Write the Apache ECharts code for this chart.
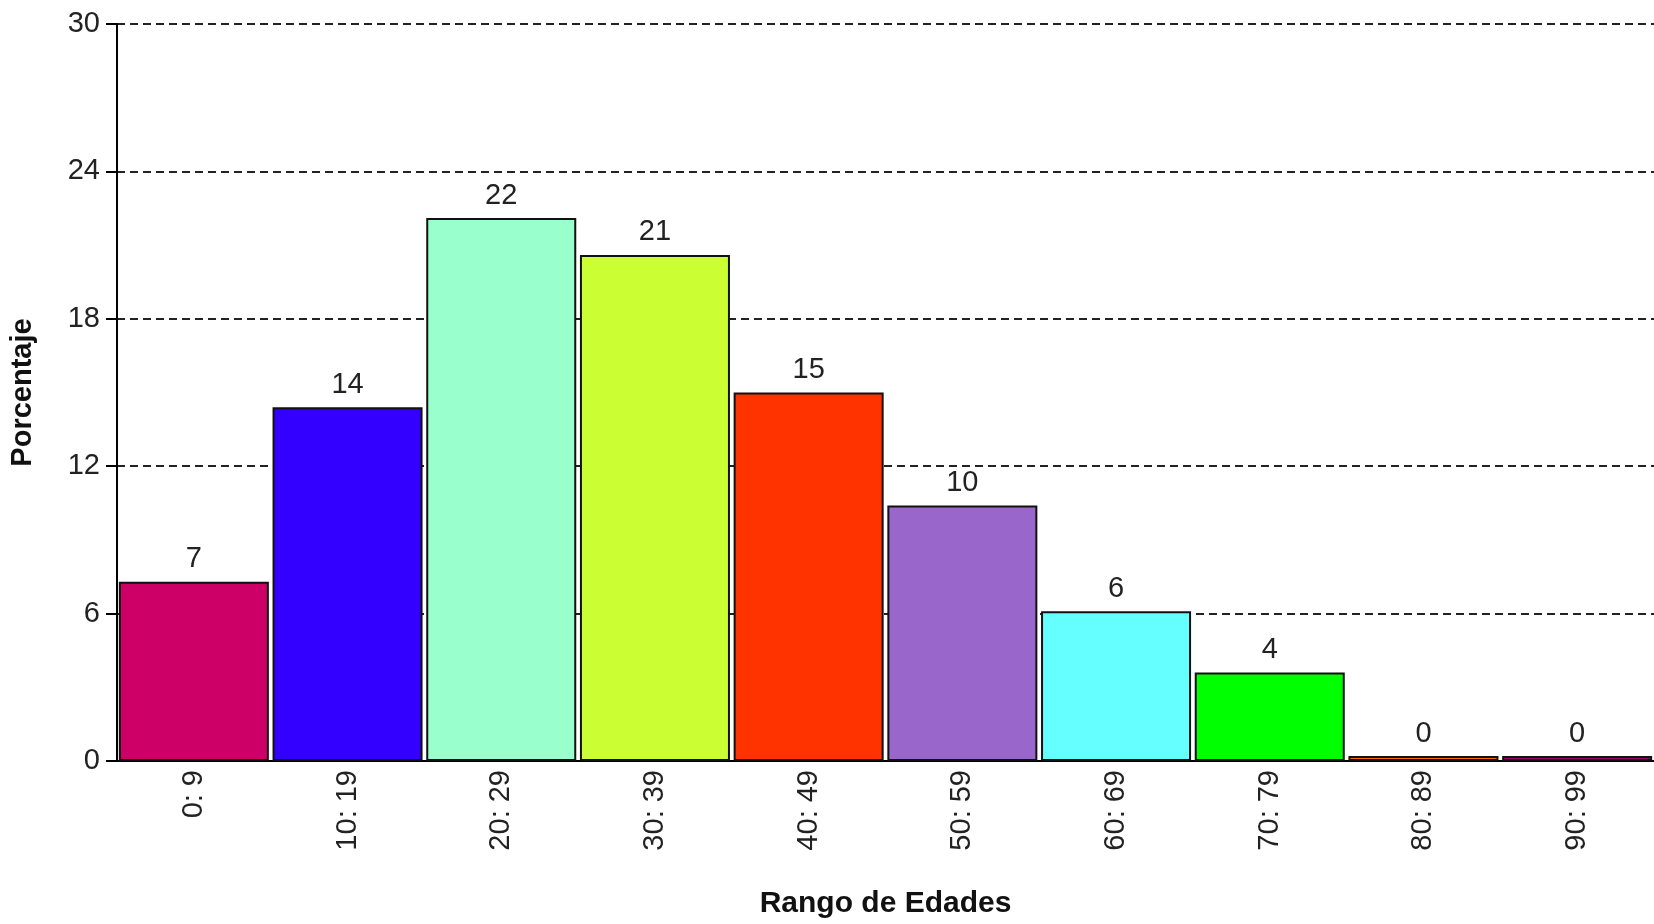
<!DOCTYPE html>
<html>
<head>
<meta charset="utf-8">
<script src="https://cdn.jsdelivr.net/npm/echarts@6/dist/echarts.min.js"></script>
<style>
html,body{margin:0;padding:0;background:#fff;overflow:hidden;}
#chart{width:1654px;height:924px;}
</style>
</head>
<body>
<div id="chart"></div>
<script>
const categories = ['0: 9','10: 19','20: 29','30: 39','40: 49','50: 59','60: 69','70: 79','80: 89','90: 99'];
const values = [7.3, 14.4, 22.1, 20.6, 15.0, 10.4, 6.1, 3.6, 0.2, 0.2];
const barColors = ['#CC0066','#3300FF','#99FFCC','#CCFF33','#FF3300','#9966CC','#66FFFF','#00FF00','#FF6600','#990066'];
const yTicks = [0, 6, 12, 18, 24, 30];

const FONT = "'Liberation Sans', Arial, sans-serif";
const chart = echarts.init(document.getElementById('chart'));
chart.setOption({
  animation: false,
  backgroundColor: '#ffffff',
  grid: {left: 107, right: 0, top: 24, bottom: 146, containLabel: false},
  xAxis: {
    type: 'category',
    data: categories,
    axisLine: {show: true, lineStyle: {color: '#000', width: 2}},
    axisTick: {show: false},
    axisLabel: {rotate: 90, fontSize: 29, fontFamily: FONT, color: '#222', margin: 9},
    name: 'Rango de Edades',
    nameLocation: 'middle',
    nameGap: 128,
    nameTextStyle: {fontSize: 30, fontWeight: 'bold', fontFamily: FONT, color: '#111'}
  },
  yAxis: {
    type: 'value',
    min: yTicks[0],
    max: yTicks[yTicks.length - 1],
    interval: yTicks[1] - yTicks[0],
    axisLine: {show: true, lineStyle: {color: '#000', width: 2}},
    axisTick: {show: true, length: 11, lineStyle: {color: '#000', width: 2}},
    axisLabel: {fontSize: 29, fontFamily: FONT, color: '#222', margin: 17},
    splitLine: {show: true, lineStyle: {color: '#222', width: 2, type: [8, 5]}},
    name: 'Porcentaje',
    nameLocation: 'middle',
    nameGap: 80,
    nameRotate: 90,
    nameTextStyle: {fontSize: 29, fontWeight: 'bold', fontFamily: FONT, color: '#111'}
  },
  series: [{
    type: 'bar',
    barCategoryGap: '2.4%',
    data: values.map((v, i) => ({
      value: v,
      itemStyle: {color: barColors[i], borderColor: '#111', borderWidth: 2}
    })),
    label: {
      show: true,
      position: 'top',
      distance: 8,
      fontSize: 29,
      fontFamily: FONT,
      color: '#222',
      formatter: p => String(Math.round(p.value))
    }
  }]
});
</script>
</body>
</html>
